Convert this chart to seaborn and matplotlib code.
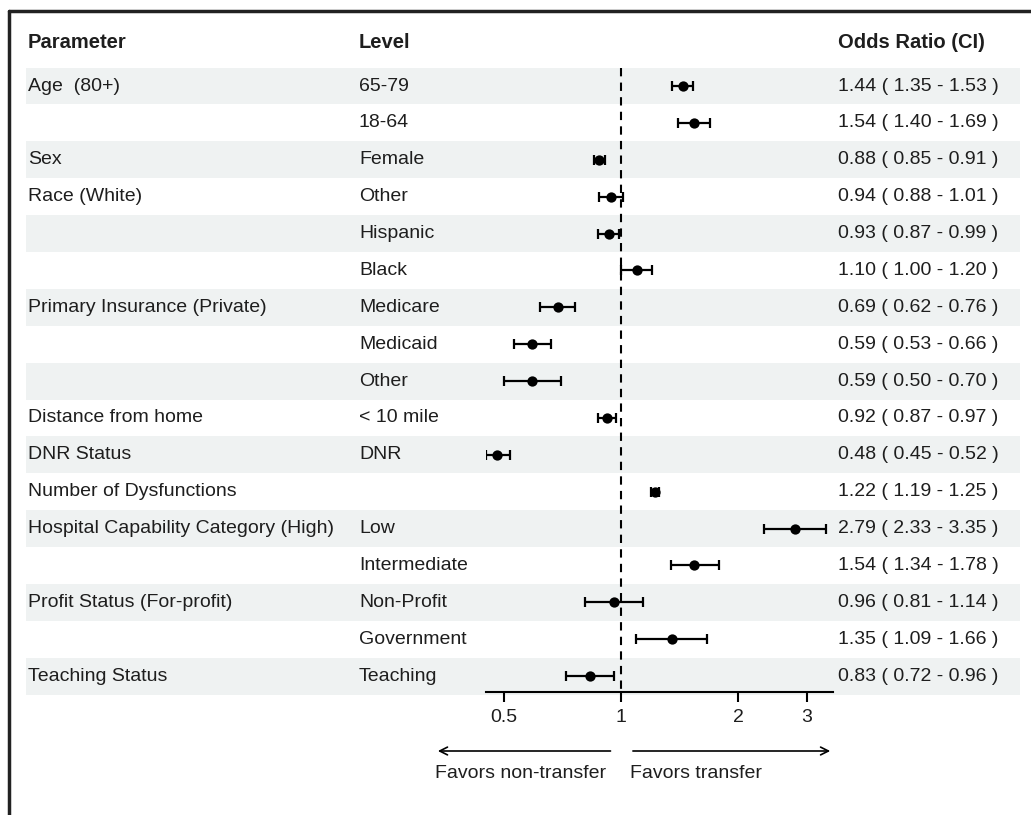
import matplotlib
matplotlib.use("Agg")
import matplotlib.pyplot as plt
import matplotlib.transforms as mtransforms
from matplotlib.lines import Line2D
import numpy as np
import pandas as pd
import seaborn as sns

# forest plot data, one row per level
params = ["Age  (80+)", "", "Sex", "Race (White)", "", "", "Primary Insurance (Private)", "", "",
          "Distance from home", "DNR Status", "Number of Dysfunctions",
          "Hospital Capability Category (High)", "", "Profit Status (For-profit)", "", "Teaching Status"]
levels = ["65-79", "18-64", "Female", "Other", "Hispanic", "Black", "Medicare", "Medicaid", "Other",
          "< 10 mile", "DNR", "", "Low", "Intermediate", "Non-Profit", "Government", "Teaching"]
odds = [1.44, 1.54, 0.88, 0.94, 0.93, 1.10, 0.69, 0.59, 0.59, 0.92, 0.48, 1.22, 2.79, 1.54, 0.96, 1.35, 0.83]
lower = [1.35, 1.40, 0.85, 0.88, 0.87, 1.00, 0.62, 0.53, 0.50, 0.87, 0.45, 1.19, 2.33, 1.34, 0.81, 1.09, 0.72]
upper = [1.53, 1.69, 0.91, 1.01, 0.99, 1.20, 0.76, 0.66, 0.70, 0.97, 0.52, 1.25, 3.35, 1.78, 1.14, 1.66, 0.96]
xticks = [0.5, 1, 2, 3]
xtick_labels = ["0.5", "1", "2", "3"]

df = pd.DataFrame({"param": params, "level": levels, "odds": odds, "lower": lower, "upper": upper})
df["row"] = np.arange(1, len(df) + 1)

sns.set_style("white")
plt.rcParams['font.family'] = ['Liberation Sans', 'DejaVu Sans']
txt_col = "#1e1e1e"
band_col = "#eff2f2"
fs = 14

W, H = 1031, 815
fig = plt.figure(figsize=(W / 100, H / 100), dpi=100)
# axes placed in pixel terms: x 486..833, y 67.6..692
ax = fig.add_axes([486 / W, 1 - 692 / H, (833 - 486) / W, (692 - 67.6) / H])
ax.set_xscale("log")
ax.set_xlim(0.45, 3.5)
nrow = len(df)
ax.set_ylim(nrow + 0.43, 0.5)

# alternating row bands running across the whole table
x0 = (26 - 486) / 347
x1 = (1020 - 486) / 347
for r in df["row"]:
    if r % 2 == 1:
        ax.axhspan(r - 0.5, r + 0.5, xmin=x0, xmax=x1, color=band_col, lw=0, clip_on=False, zorder=0)

# reference line
ax.plot([1, 1], [0.5, nrow + 0.43], color="black", lw=1.5, ls=(0, (4, 3)), zorder=1)

# CIs and points
ax.errorbar(df["odds"], df["row"],
            xerr=[df["odds"] - df["lower"], df["upper"] - df["odds"]],
            fmt="none", ecolor="black", elinewidth=1.6, capsize=3.5, capthick=1.6, zorder=2)
sns.scatterplot(data=df, x="odds", y="row", color="black", s=55, edgecolor="black", linewidth=0,
                ax=ax, zorder=3, legend=False)

ax.set_xticks(xticks)
ax.set_xticklabels(xtick_labels)
ax.xaxis.set_minor_locator(matplotlib.ticker.NullLocator())
ax.set_yticks([])
ax.set_xlabel("")
ax.set_ylabel("")
for s in ["top", "left", "right"]:
    ax.spines[s].set_visible(False)
ax.spines["bottom"].set_linewidth(1.5)
ax.spines["bottom"].set_color("black")
ax.tick_params(axis="x", direction="out", length=7, width=1.5, color="black",
               labelsize=fs, labelcolor=txt_col, pad=5, bottom=True)
ax.patch.set_alpha(0)

# table text
tr = mtransforms.blended_transform_factory(fig.transFigure, ax.transData)
for _, d in df.iterrows():
    ax.text(28 / W, d["row"], d["param"], transform=tr, ha="left", va="center", fontsize=fs, color=txt_col)
    ax.text(359 / W, d["row"], d["level"], transform=tr, ha="left", va="center", fontsize=fs, color=txt_col)
    ax.text(838 / W, d["row"], "%.2f ( %.2f - %.2f )" % (d["odds"], d["lower"], d["upper"]),
            transform=tr, ha="left", va="center", fontsize=fs, color=txt_col)

hy = 1 - 42 / H
fig.text(28 / W, hy, "Parameter", ha="left", va="center", fontsize=fs + 0.5, fontweight="bold", color=txt_col)
fig.text(359 / W, hy, "Level", ha="left", va="center", fontsize=fs + 0.5, fontweight="bold", color=txt_col)
fig.text(838 / W, hy, "Odds Ratio (CI)", ha="left", va="center", fontsize=fs + 0.5, fontweight="bold", color=txt_col)

# direction arrows
tr2 = mtransforms.blended_transform_factory(ax.transData, fig.transFigure)
ay = 1 - 751 / H
ax.annotate("", xy=(0.333, ay), xytext=(0.955, ay), xycoords=tr2, textcoords=tr2,
            arrowprops=dict(arrowstyle="->", color="black", lw=1.2, mutation_scale=14), annotation_clip=False)
ax.annotate("", xy=(3.5, ay), xytext=(1.055, ay), xycoords=tr2, textcoords=tr2,
            arrowprops=dict(arrowstyle="->", color="black", lw=1.2, mutation_scale=14), annotation_clip=False)
ty = 1 - 773 / H
ax.text(0.333, ty, "Favors non-transfer", transform=tr2, ha="left", va="center", fontsize=fs, color=txt_col)
ax.text(1.055, ty, "Favors transfer", transform=tr2, ha="left", va="center", fontsize=fs, color=txt_col)

# partial frame (top and left edges)
fig.add_artist(Line2D([9 / W, 1], [1 - 11 / H, 1 - 11 / H], transform=fig.transFigure, color="#222222", lw=2.5))
fig.add_artist(Line2D([9 / W, 9 / W], [0, 1 - 11 / H], transform=fig.transFigure, color="#222222", lw=2.5))

fig.savefig("out.png", dpi=100)
